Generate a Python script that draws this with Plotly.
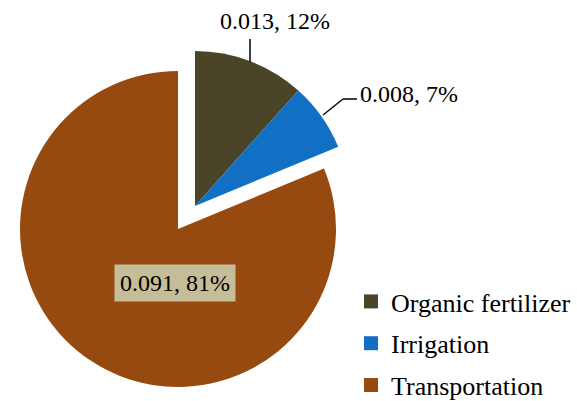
import plotly.graph_objects as go

categories = ["Organic fertilizer", "Irrigation", "Transportation"]
values = [0.013, 0.008, 0.091]
pct_labels = ["12%", "7%", "81%"]
colors = ["#4a4429", "#1170c4", "#974a10"]
pulled = [True, True, False]

W, H = 577, 401
CLEAR = "rgba(0,0,0,0)"

def px_domain(cx, cy, r):
    return dict(x=[(cx - r) / W, (cx + r) / W], y=[1 - (cy + r) / H, 1 - (cy - r) / H])

fig = go.Figure()
# base pie (non pulled slices)
fig.add_trace(go.Pie(
    labels=categories, values=values, sort=False, direction="clockwise", rotation=0,
    marker=dict(colors=[CLEAR if p else c for c, p in zip(colors, pulled)], line=dict(width=0)),
    textinfo="none", hoverinfo="label+value+percent", showlegend=False,
    domain=px_domain(178, 229, 158),
))
# pulled group (fertilizer + irrigation shifted together)
fig.add_trace(go.Pie(
    labels=categories, values=values, sort=False, direction="clockwise", rotation=0,
    marker=dict(colors=[c if p else CLEAR for c, p in zip(colors, pulled)], line=dict(width=0)),
    textinfo="none", hoverinfo="label+value+percent", showlegend=False,
    domain=px_domain(195, 206, 155),
))
# legend entries
for i, (cat, col) in enumerate(zip(categories, colors)):
    fig.add_trace(go.Scatter(
        x=[None], y=[None], mode="markers", name=cat, legendgroup=f"g{i}",
        marker=dict(symbol="square", size=14, color=col),
    ))

lab = [f"{v:.3f}, {p}" for v, p in zip(values, pct_labels)]
font = dict(family="Liberation Serif", size=24, color="black")
annotations = [
    dict(x=275 / W, y=1 - 21 / H, xref="paper", yref="paper", text=lab[0], showarrow=False, font=font,
         xanchor="center", yanchor="middle"),
    dict(x=409 / W, y=1 - 94 / H, xref="paper", yref="paper", text=lab[1], showarrow=False, font=font,
         xanchor="center", yanchor="middle"),
    dict(x=175 / W, y=1 - 283 / H, xref="paper", yref="paper", text=lab[2], showarrow=False, font=font,
         xanchor="center", yanchor="middle", bgcolor="#c4bd97", borderpad=5),
]
shapes = [
    dict(type="line", xref="paper", yref="paper", x0=250 / W, y0=1 - 39 / H, x1=250 / W, y1=1 - 62 / H,
         line=dict(color="black", width=1.5)),
    dict(type="line", xref="paper", yref="paper", x0=357 / W, y0=1 - 99 / H, x1=343 / W, y1=1 - 99 / H,
         line=dict(color="black", width=1.5)),
    dict(type="line", xref="paper", yref="paper", x0=343 / W, y0=1 - 99 / H, x1=323 / W, y1=1 - 115 / H,
         line=dict(color="black", width=1.5)),
]

fig.update_layout(
    width=W, height=H, margin=dict(l=0, r=0, t=0, b=0, autoexpand=False),
    paper_bgcolor="white", plot_bgcolor="white",
    xaxis=dict(visible=False), yaxis=dict(visible=False),
    annotations=annotations, shapes=shapes,
    legend=dict(x=351 / W, y=1 - 278 / H, xanchor="left", yanchor="top",
                font=dict(family="Liberation Serif", size=26, color="black"),
                tracegroupgap=5, itemwidth=30, bgcolor=CLEAR),
)
fig.write_html("out.html")
